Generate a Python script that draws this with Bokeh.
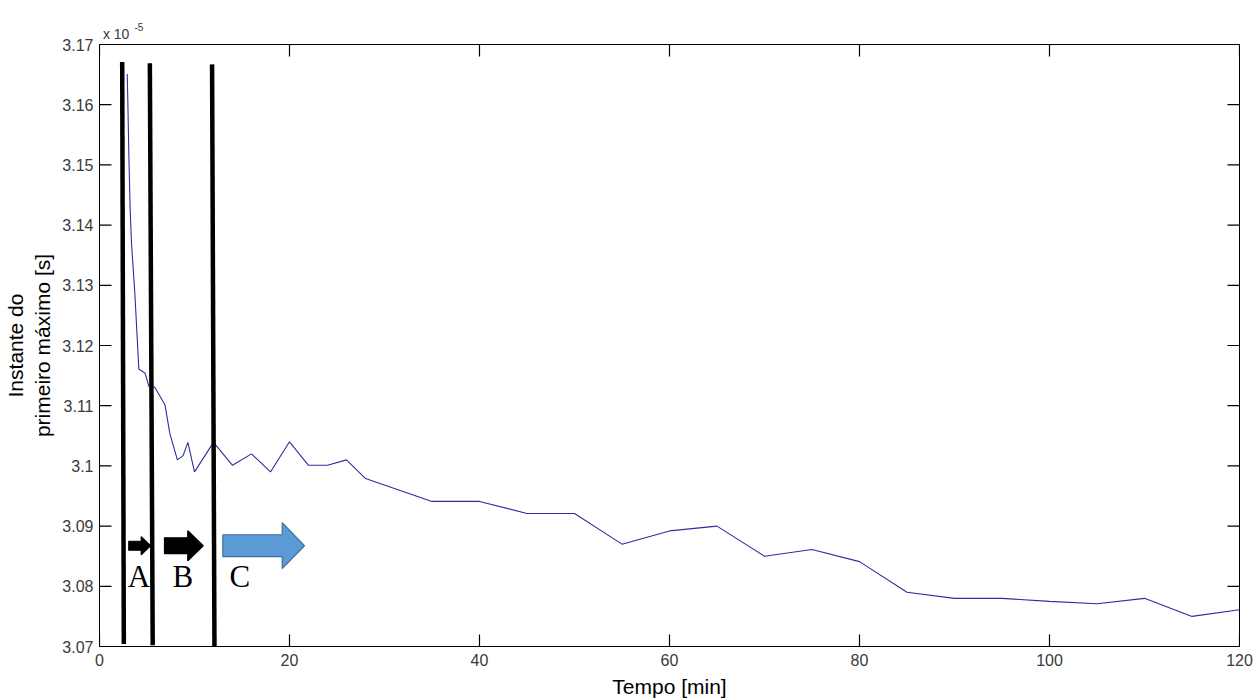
import numpy as np
from bokeh.plotting import figure
from bokeh.models import FixedTicker, Range1d, LinearAxis
from bokeh.core.properties import value
from bokeh.embed import file_html
from bokeh.resources import INLINE

# ---- data (time in minutes, first-maximum instant in units of 1e-5 s) ----
tempo = [2.92, 2.98, 3.09, 3.23, 3.37, 3.72, 4.14, 4.8, 5.2, 5.8, 6.9, 7.4, 8.2,
         8.8, 9.3, 10.0, 12, 14, 16, 18, 20, 22, 24, 26, 28, 35, 40, 45, 50, 55,
         60, 65, 70, 75, 80, 85, 90, 95, 100, 105, 110, 115, 120]
instante = [3.1651, 3.1607, 3.1516, 3.1425, 3.1369, 3.1287, 3.1161, 3.1154,
            3.1132, 3.1131, 3.1101, 3.1054, 3.1010, 3.1017, 3.1039, 3.0990,
            3.1039, 3.1001, 3.1020, 3.0990, 3.1040, 3.1001, 3.1001, 3.1010,
            3.0979, 3.0941, 3.0941, 3.0921, 3.0921, 3.0870, 3.0892, 3.0900,
            3.0850, 3.0861, 3.0841, 3.0790, 3.0780, 3.0780, 3.0775, 3.0771,
            3.0780, 3.0750, 3.0761]

x_ticks = [0, 20, 40, 60, 80, 100, 120]
y_ticks = [3.07, 3.08, 3.09, 3.10, 3.11, 3.12, 3.13, 3.14, 3.15, 3.16, 3.17]
y_tick_labels = ["3.07", "3.08", "3.09", "3.1", "3.11", "3.12", "3.13",
                 "3.14", "3.15", "3.16", "3.17"]

# exponent marker texts and their x positions (minutes)
expo_base, expo_base_x = "x 10", 1.75
expo_pow, expo_pow_x = "-5", 4.15

# phase boundary lines (hand drawn, slightly slanted)
fase_x_top = [2.39, 5.30, 11.85]
fase_x_bot = [2.56, 5.60, 12.10]
fase_y_top = [3.1671, 3.1669, 3.1667]
fase_y_bot = [3.0704, 3.0702, 3.0700]

# phase arrows and letters
seta_x0 = [3.08, 6.84, 12.98]
seta_head = [4.39, 9.29, 19.23]
seta_x1 = [5.37, 10.92, 21.58]
seta_y = [3.08674, 3.08674, 3.08674]
seta_shaft_px = [4.5, 8.0, 11.0]
seta_head_px = [9.0, 15.0, 23.0]
seta_fill = ["#000000", "#000000", "#5B9BD5"]
seta_line = ["#000000", "#000000", "#41719C"]
fase_nomes = ["A", "B", "C"]
fase_nome_x = [4.14, 8.77, 14.77]
fase_nome_y = [3.0816, 3.0816, 3.0816]

W, H = 1256, 700
L, R, T, B = 99, 17, 44, 53
x0, x1, y0, y1 = 0, 120, 3.07, 3.17
fw, fh = W - L - R, H - T - B
py_per_unit = fh / (y1 - y0)
px_per_min = fw / (x1 - x0)
tick_px = 12

p = figure(width=W, height=H, output_backend="svg", toolbar_location=None,
           x_range=Range1d(x0, x1), y_range=Range1d(y0, y1),
           min_border_left=L, min_border_right=R, min_border_top=T,
           min_border_bottom=B, background_fill_color="white",
           border_fill_color="white", outline_line_color="#000000",
           outline_line_width=1)
p.xgrid.visible = False
p.ygrid.visible = False

label_font = "Liberation Sans"
for ax in [p.xaxis[0], p.yaxis[0]]:
    ax.major_tick_in = 0
    ax.major_tick_out = 0
    ax.minor_tick_line_color = None
    ax.axis_line_color = "#000000"
    ax.major_label_text_font = label_font
    ax.major_label_text_font_size = "16px"
    ax.major_label_text_color = "#3a3a3a"
    ax.axis_label_text_font = label_font
    ax.axis_label_text_font_style = "normal"
    ax.axis_label_text_color = "#000000"
    ax.axis_label_text_font_size = "21px"

p.xaxis[0].ticker = FixedTicker(ticks=x_ticks)
p.yaxis[0].ticker = FixedTicker(ticks=y_ticks)
p.yaxis[0].major_label_overrides = {t: s for t, s in zip(y_ticks, y_tick_labels)}
p.xaxis[0].major_label_standoff = 7
p.yaxis[0].major_label_standoff = 6
p.xaxis[0].axis_label = "Tempo [min]"
p.yaxis[0].axis_label = "Instante do\nprimeiro máximo [s]"
p.xaxis[0].axis_label_standoff = 6
p.yaxis[0].axis_label_standoff = 5

# exponent marker "x 10^-5" above the top-left corner (label-only axes)
ax_base = LinearAxis(ticker=FixedTicker(ticks=[expo_base_x]),
                     major_label_overrides={expo_base_x: expo_base},
                     major_tick_in=0, major_tick_out=0, axis_line_color=None,
                     minor_tick_line_color=None, major_label_standoff=3,
                     major_label_text_font=label_font,
                     major_label_text_font_size="14px",
                     major_label_text_color="#3a3a3a")
ax_pow = LinearAxis(ticker=FixedTicker(ticks=[expo_pow_x]),
                    major_label_overrides={expo_pow_x: expo_pow},
                    major_tick_in=0, major_tick_out=0, axis_line_color=None,
                    minor_tick_line_color=None, major_label_standoff=-8,
                    major_label_text_font=label_font,
                    major_label_text_font_size="10px",
                    major_label_text_color="#3a3a3a")
p.add_layout(ax_base, "above")
p.add_layout(ax_pow, "above")

# inward ticks on all four sides, at the tick positions
tx = tick_px / px_per_min
ty = tick_px / py_per_unit
tick_x0, tick_y0, tick_x1, tick_y1 = [], [], [], []
for t in x_ticks:
    tick_x0 += [t, t]
    tick_x1 += [t, t]
    tick_y0 += [y0, y1]
    tick_y1 += [y0 + ty, y1 - ty]
for v in y_ticks:
    tick_x0 += [x0, x1]
    tick_x1 += [x0 + tx, x1 - tx]
    tick_y0 += [v, v]
    tick_y1 += [v, v]
p.segment(x0=tick_x0, y0=tick_y0, x1=tick_x1, y1=tick_y1,
          line_color="#000000", line_width=1.2)

# data curve
p.line(tempo, instante, line_color="#2E2E9E", line_width=1.1)

# phase boundary lines
p.segment(x0=fase_x_top, y0=fase_y_top, x1=fase_x_bot, y1=fase_y_bot,
          line_color="#000000", line_width=4.5, line_cap="butt")

# block arrows (built from the arrow specs)
xs, ys = [], []
for a, h, b, yc, sp, hp in zip(seta_x0, seta_head, seta_x1, seta_y,
                               seta_shaft_px, seta_head_px):
    s = sp / py_per_unit
    hh = hp / py_per_unit
    xs.append([a, h, h, b, h, h, a])
    ys.append([yc - s, yc - s, yc - hh, yc, yc + hh, yc + s, yc + s])
p.patches(xs, ys, fill_color=seta_fill, line_color=seta_line, line_width=1.2)

p.text(x=fase_nome_x, y=fase_nome_y, text=fase_nomes,
       text_font=value("Liberation Serif"), text_font_size="31px",
       text_align="center", text_baseline="middle", text_color="#000000")

open("out.html", "w").write(file_html(p, INLINE))
